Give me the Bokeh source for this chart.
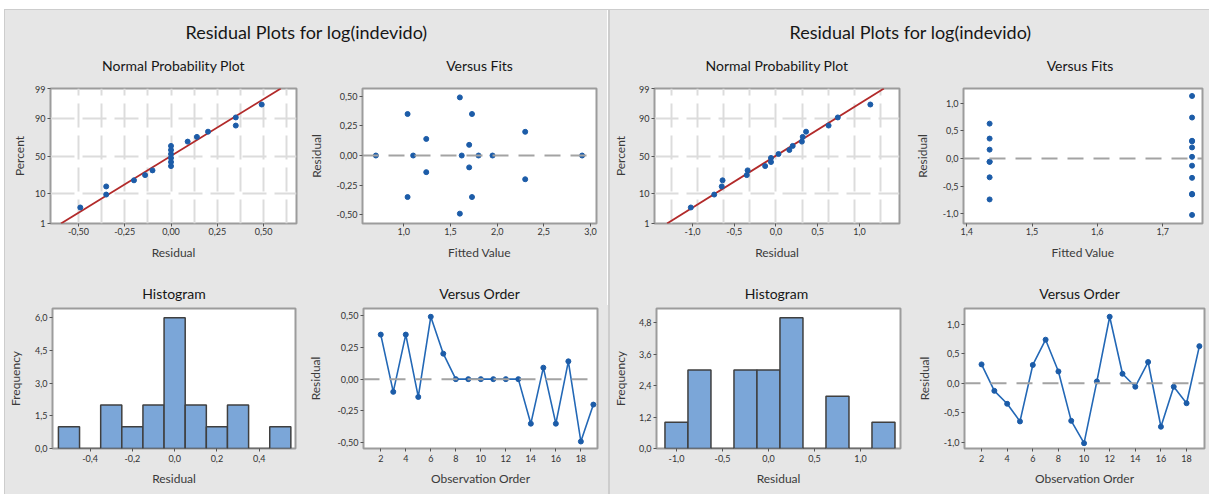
from statistics import NormalDist, mean, stdev
from bokeh.plotting import figure
from bokeh.layouts import row, column
from bokeh.models import Spacer, FixedTicker, Span, Range1d
from bokeh.embed import file_html
from bokeh.resources import INLINE
from bokeh.core.properties import value

# ------------------------------------------------------------------ data
main_title = "Residual Plots for log(indevido)"
sub_titles = ["Normal Probability Plot", "Versus Fits", "Histogram", "Versus Order"]

obs_order = [2, 3, 4, 5, 6, 7, 8, 9, 10, 11, 12, 13, 14, 15, 16, 17, 18, 19]

left_resid = [0.35, -0.10, 0.35, -0.14, 0.49, 0.20, 0.00, 0.00, 0.00,
              0.00, 0.00, 0.00, -0.35, 0.09, -0.35, 0.14, -0.49, -0.20]
left_fits = [1.04, 1.70, 1.73, 1.24, 1.60, 2.30, 0.70, 1.10, 1.62,
             1.80, 1.95, 2.91, 1.04, 1.70, 1.73, 1.24, 1.60, 2.30]

right_resid = [0.32, -0.13, -0.35, -0.65, 0.31, 0.74, 0.20, -0.64, -1.02,
               0.03, 1.13, 0.16, -0.06, 0.36, -0.74, -0.06, -0.34, 0.63]
right_fits = [1.745, 1.745, 1.745, 1.745, 1.745, 1.745, 1.745, 1.745, 1.745,
              1.745, 1.745, 1.435, 1.435, 1.435, 1.435, 1.435, 1.435, 1.435]

# median-rank plotting positions (percent) for the 18 ordered residuals
npp_percent = [3.8, 9.2, 14.7, 20.1, 25.5, 31.0, 36.4, 41.8, 47.3,
               52.7, 58.2, 63.6, 69.0, 74.5, 79.9, 85.3, 90.8, 96.2]

hist_left_centers = [-0.5, -0.4, -0.3, -0.2, -0.1, 0.0, 0.1, 0.2, 0.3, 0.4, 0.5]
hist_left_counts = [1, 0, 2, 1, 2, 6, 2, 1, 2, 0, 1]
hist_left_width = 0.1

hist_right_centers = [-1.0, -0.75, -0.5, -0.25, 0.0, 0.25, 0.5, 0.75, 1.0, 1.25]
hist_right_counts = [1, 3, 0, 3, 3, 5, 0, 2, 0, 1]
hist_right_width = 0.25

# tick values / labels
pct_ticks = [1, 10, 50, 90, 99]
pct_labels = ["1", "10", "50", "90", "99"]
pct_grid = [10, 50, 90]

npp_l_xticks = [-0.5, -0.25, 0.0, 0.25, 0.5]
npp_l_xlabels = ["-0,50", "-0,25", "0,00", "0,25", "0,50"]
npp_l_xgrid = [-0.5, -0.375, -0.25, -0.125, 0.0, 0.125, 0.25, 0.375, 0.5, 0.625]
npp_r_xticks = [-1.0, -0.5, 0.0, 0.5, 1.0]
npp_r_xlabels = ["-1,0", "-0,5", "0,0", "0,5", "1,0"]
npp_r_xgrid = [-1.25, -0.9375, -0.625, -0.3125, 0.0, 0.3125, 0.625, 0.9375, 1.25]

fits_l_xticks = [1.0, 1.5, 2.0, 2.5, 3.0]
fits_l_xlabels = ["1,0", "1,5", "2,0", "2,5", "3,0"]
resid_l_yticks = [-0.5, -0.25, 0.0, 0.25, 0.5]
resid_l_ylabels = ["-0,50", "-0,25", "0,00", "0,25", "0,50"]
fits_r_xticks = [1.4, 1.5, 1.6, 1.7]
fits_r_xlabels = ["1,4", "1,5", "1,6", "1,7"]
resid_r_yticks = [-1.0, -0.5, 0.0, 0.5, 1.0]
resid_r_ylabels = ["-1,0", "-0,5", "0,0", "0,5", "1,0"]

hist_l_xticks = [-0.4, -0.2, 0.0, 0.2, 0.4]
hist_l_xlabels = ["-0,4", "-0,2", "0,0", "0,2", "0,4"]
hist_l_yticks = [0.0, 1.5, 3.0, 4.5, 6.0]
hist_l_ylabels = ["0,0", "1,5", "3,0", "4,5", "6,0"]
hist_r_xticks = [-1.0, -0.5, 0.0, 0.5, 1.0]
hist_r_xlabels = ["-1,0", "-0,5", "0,0", "0,5", "1,0"]
hist_r_yticks = [0.0, 1.2, 2.4, 3.6, 4.8]
hist_r_ylabels = ["0,0", "1,2", "2,4", "3,6", "4,8"]

order_xticks = [2, 4, 6, 8, 10, 12, 14, 16, 18]
order_xlabels = ["2", "4", "6", "8", "10", "12", "14", "16", "18"]

# ------------------------------------------------------------------ style
FONT = "Lato"
BG = "#e6e6e6"
PT = "#1c5ca8"
LINE_BLUE = "#2368b6"
FIT_RED = "#b22a2a"
BAR = "#7ba6d8"
FIG_STYLE = {"background-color": BG}

# layout (pixels): (frame_width, border_left, border_right)
GEOM = {
    "npp_L": (246, 45, 9), "fits_L": (234, 57, 11),
    "hist_L": (243, 47, 10), "order_L": (234, 57, 11),
    "npp_R": (245, 44, 12), "fits_R": (239, 49, 11),
    "hist_R": (244, 44, 13), "order_R": (240, 48, 11),
}
ROW1_FH, ROW1_BB = 135, 47
ROW2_FH, ROW2_BB = 140, 46
TOP_B = 3
HEAD_H = 75
STRIP_H = 35

nd = NormalDist()


def pz(p):
    return nd.inv_cdf(p / 100.0)


def set_ticks(axis, ticks, labels):
    axis.ticker = FixedTicker(ticks=list(ticks))
    axis.major_label_overrides = {t: l for t, l in zip(ticks, labels)}


def make_fig(key, xr, yr, fh, bb, xlab, ylab, xls, yls, xtick_stand):
    fw, bl, br = GEOM[key]
    p = figure(frame_width=fw, frame_height=fh,
               x_range=Range1d(*xr), y_range=Range1d(*yr),
               min_border_left=bl, min_border_right=br,
               min_border_top=TOP_B, min_border_bottom=bb,
               output_backend="svg", toolbar_location=None,
               styles=FIG_STYLE)
    p.border_fill_color = BG
    p.background_fill_color = "white"
    p.outline_line_color = "#9c9c9c"
    p.outline_line_width = 2
    p.grid.visible = False
    p.xaxis.axis_label = xlab
    p.yaxis.axis_label = ylab
    for ax in p.axis:
        ax.axis_line_color = None
        ax.major_tick_out = 3
        ax.major_tick_in = 0
        ax.minor_tick_out = 0
        ax.minor_tick_in = 0
        ax.major_tick_line_color = "#555555"
        ax.major_label_text_font = FONT
        ax.major_label_text_font_size = "9px"
        ax.major_label_text_color = "#333333"
        ax.axis_label_text_font = FONT
        ax.axis_label_text_font_size = "12px"
        ax.axis_label_text_font_style = "normal"
        ax.axis_label_text_color = "#3a3a3a"
    p.yaxis.major_label_standoff = 2
    p.xaxis.major_label_standoff = xtick_stand
    p.xaxis.axis_label_standoff = xls
    p.yaxis.axis_label_standoff = yls
    return p


def strip(width, height, texts, xs, ys, sizes):
    h = figure(frame_width=width, frame_height=height,
               x_range=Range1d(0, width), y_range=Range1d(0, height),
               min_border=0, x_axis_type=None, y_axis_type=None,
               output_backend="svg", toolbar_location=None, styles=FIG_STYLE)
    h.grid.visible = False
    h.outline_line_color = None
    h.background_fill_color = BG
    h.border_fill_color = BG
    for t, x, y, s in zip(texts, xs, ys, sizes):
        h.text(x=[x], y=[y], text=[t], text_align="center",
               text_baseline="middle", text_font=value(FONT),
               text_font_size=s, text_color="#161616")
    return h


def centers(k1, k2):
    fw1, bl1, br1 = GEOM[k1]
    fw2, bl2, br2 = GEOM[k2]
    return bl1 + fw1 / 2, bl1 + fw1 + br1 + bl2 + fw2 / 2


def npp(key, resid, xr, xticks, xlabels, xgrid, yls):
    zr = (pz(pct_ticks[0]), pz(pct_ticks[-1]))
    p = make_fig(key, xr, zr, ROW1_FH, ROW1_BB, "Residual", "Percent", 7, yls, 1)
    set_ticks(p.xaxis[0], xticks, xlabels)
    zt = [pz(t) for t in pct_ticks]
    set_ticks(p.yaxis[0], zt, pct_labels)
    p.xgrid.visible = True
    p.ygrid.visible = True
    p.xgrid.ticker = FixedTicker(ticks=xgrid)
    p.ygrid.ticker = FixedTicker(ticks=[pz(g) for g in pct_grid])
    for g in (p.xgrid[0], p.ygrid[0]):
        g.grid_line_color = "#dcdcdc"
        g.grid_line_width = 2
        g.grid_line_dash = "24 8"
    m, s = mean(resid), stdev(resid)
    p.line(x=[m + s * zr[0], m + s * zr[1]], y=list(zr),
           line_color=FIT_RED, line_width=1.8)
    p.scatter(x=sorted(resid), y=[pz(v) for v in npp_percent], size=5,
              marker="circle", fill_color=PT, line_color=PT)
    return p


def zero_span(p):
    p.add_layout(Span(location=0, dimension="width", line_color="#a3a3a3",
                      line_width=2, line_dash="16 10"))


def fits(key, resid, fv, xr, yr, xticks, xlabels, yticks, ylabels, yls):
    p = make_fig(key, xr, yr, ROW1_FH, ROW1_BB, "Fitted Value", "Residual", 7, yls, 1)
    set_ticks(p.xaxis[0], xticks, xlabels)
    set_ticks(p.yaxis[0], yticks, ylabels)
    zero_span(p)
    p.scatter(x=fv, y=resid, size=5, marker="circle",
              fill_color=PT, line_color=PT)
    return p


def hist(key, cen, counts, width, xr, yr, xticks, xlabels, yticks, ylabels, yls):
    p = make_fig(key, xr, yr, ROW2_FH, ROW2_BB, "Residual", "Frequency", 6, yls, 3)
    set_ticks(p.xaxis[0], xticks, xlabels)
    set_ticks(p.yaxis[0], yticks, ylabels)
    p.vbar(x=cen, width=width, top=counts, bottom=0, fill_color=BAR,
           line_color="#3f3f3f", line_width=1.5)
    return p


def order(key, resid, yr, yticks, ylabels, xr, yls):
    p = make_fig(key, xr, yr, ROW2_FH, ROW2_BB, "Observation Order", "Residual", 6, yls, 3)
    set_ticks(p.xaxis[0], order_xticks, order_xlabels)
    set_ticks(p.yaxis[0], yticks, ylabels)
    zero_span(p)
    p.line(x=obs_order, y=resid, line_color=LINE_BLUE, line_width=1.6)
    p.scatter(x=obs_order, y=resid, size=5, marker="circle",
              fill_color=PT, line_color=PT)
    return p


def panel(width, npp_f, fits_f, hist_f, order_f, k):
    c1 = centers("npp_" + k, "fits_" + k)
    c2 = centers("hist_" + k, "order_" + k)
    head = strip(width, HEAD_H, [main_title, sub_titles[0], sub_titles[1]],
                 [width / 2, c1[0], c1[1]], [HEAD_H - 21, HEAD_H - 55, HEAD_H - 55],
                 ["18px", "14px", "14px"])
    mid = strip(width, STRIP_H, [sub_titles[2], sub_titles[3]],
                [c2[0], c2[1]], [STRIP_H - 23, STRIP_H - 23], ["14px", "14px"])
    return column(head, row(npp_f, fits_f), mid, row(hist_f, order_f))


# ------------------------------------------------------------------ left panel
npp_L = npp("npp_L", left_resid, (-0.651, 0.678), npp_l_xticks, npp_l_xlabels,
            npp_l_xgrid, 5)
fits_L = fits("fits_L", left_resid, left_fits, (0.557, 3.064), (-0.573, 0.565),
              fits_l_xticks, fits_l_xlabels, resid_l_yticks, resid_l_ylabels, 9)
hist_L = hist("hist_L", hist_left_centers, hist_left_counts, hist_left_width,
              (-0.578, 0.572), (0, 6.42), hist_l_xticks, hist_l_xlabels,
              hist_l_yticks, hist_l_ylabels, 9)
order_L = order("order_L", left_resid, (-0.545, 0.555), resid_l_yticks,
                resid_l_ylabels, (0.62, 19.33), 11)

# ------------------------------------------------------------------ right panel
npp_R = npp("npp_R", right_resid, (-1.455, 1.479), npp_r_xticks, npp_r_xlabels,
            npp_r_xgrid, 8)
fits_R = fits("fits_R", right_resid, right_fits, (1.395, 1.761), (-1.175, 1.265),
              fits_r_xticks, fits_r_xlabels, resid_r_yticks, resid_r_ylabels, 10)
hist_R = hist("hist_R", hist_right_centers, hist_right_counts, hist_right_width,
              (-1.217, 1.435), (0, 5.35), hist_r_xticks, hist_r_xlabels,
              hist_r_yticks, hist_r_ylabels, 8)
order_R = order("order_R", right_resid, (-1.11, 1.27), resid_r_yticks,
                resid_r_ylabels, (0.67, 19.4), 9)

left_panel = panel(602, npp_L, fits_L, hist_L, order_L, "L")
right_panel = panel(600, npp_R, fits_R, hist_R, order_R, "R")

sep = Spacer(width=2, height=484, styles={"background-color": "#cdcdcd"})
topline = Spacer(width=1204, height=1, styles={"background-color": "#cdcdcd"})
leftline = Spacer(width=1, height=485, styles={"background-color": "#cdcdcd"})

body = column(topline, row(left_panel, sep, right_panel))
page = column(Spacer(width=1209, height=9),
              row(Spacer(width=4, height=485), leftline, body))

open("out.html", "w").write(file_html(page, INLINE))
